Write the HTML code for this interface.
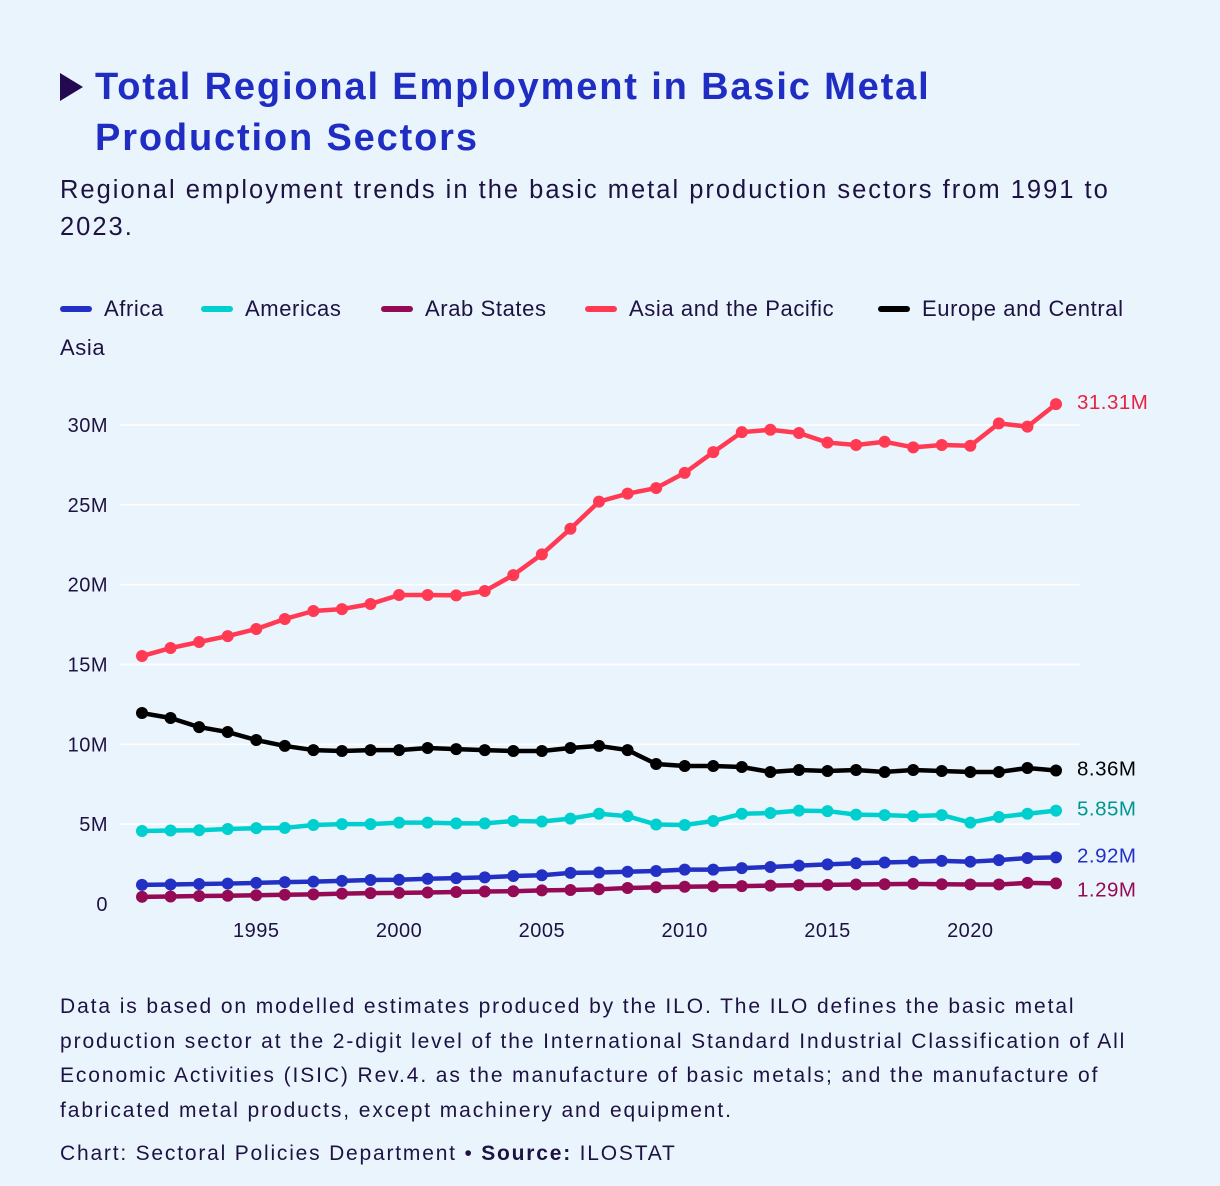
<!DOCTYPE html>
<html><head><meta charset="utf-8">
<style>
body{margin:0;background:#eaf4fd;}
#wrap{position:relative;width:1220px;height:1186px;background:#eaf4fd;font-family:"Liberation Sans",sans-serif;color:#1d1242;overflow:hidden}
.t{position:absolute;margin:0;white-space:nowrap}
.lg{position:absolute;top:294px;font-size:22px;line-height:30px;letter-spacing:0.6px}
.sw{position:absolute;top:12px;width:32px;height:6px;border-radius:3px}
</style></head><body>
<div id="wrap">
<div class="t" style="left:60px;top:73px;width:0;height:0;border-top:14px solid transparent;border-bottom:14px solid transparent;border-left:23px solid #23094f"></div>
<h1 class="t" style="left:95px;top:62px;font-size:38px;line-height:51px;font-weight:bold;color:#1f2dc2;letter-spacing:1.85px">Total Regional Employment in Basic Metal<br>Production Sectors</h1>
<p class="t" style="left:60px;top:172px;font-size:25.5px;line-height:37px;letter-spacing:2px">Regional employment trends in the basic metal production sectors from 1991 to<br>2023.</p>
<div>
<div class="lg" style="left:104px"><span class="sw" style="left:-44px;background:#2330c4"></span>Africa</div>
<div class="lg" style="left:245px"><span class="sw" style="left:-44px;background:#00cfcf"></span>Americas</div>
<div class="lg" style="left:425px"><span class="sw" style="left:-44px;background:#950a55"></span>Arab States</div>
<div class="lg" style="left:629px"><span class="sw" style="left:-44px;background:#ff3a52"></span>Asia and the Pacific</div>
<div class="lg" style="left:922px"><span class="sw" style="left:-44px;background:#000"></span>Europe and Central</div>
<div class="lg" style="left:60px;top:333px">Asia</div>
</div>
<svg id="chart" width="1220" height="1186" style="position:absolute;left:0;top:0"></svg>
<p class="t" style="left:60px;top:990px;font-size:21px;line-height:34.5px;letter-spacing:1.9px">Data is based on modelled estimates produced by the ILO. The ILO defines the basic metal<br>production sector at the 2-digit level of the International Standard Industrial Classification of All<br>Economic Activities (ISIC) Rev.4. as the manufacture of basic metals; and the manufacture of<br>fabricated metal products, except machinery and equipment.</p>
<p class="t" style="left:60px;top:1137px;font-size:21px;line-height:34px;letter-spacing:1.8px">Chart: Sectoral Policies Department • <b>Source:</b> ILOSTAT</p>
</div>
<script>
const years=[];for(let y=1991;y<=2023;y++)years.push(y);
const yTicks=[0,5,10,15,20,25,30];
const xTicks=[1995,2000,2005,2010,2015,2020];
const africa=[1.2,1.22,1.25,1.28,1.32,1.37,1.4,1.45,1.5,1.52,1.58,1.62,1.67,1.75,1.8,1.95,1.97,2.02,2.07,2.15,2.15,2.25,2.32,2.4,2.48,2.55,2.6,2.65,2.7,2.65,2.75,2.88,2.92];
const americas=[4.57,4.6,4.62,4.7,4.75,4.77,4.95,5.0,5.0,5.1,5.1,5.05,5.05,5.2,5.17,5.35,5.65,5.5,4.98,4.95,5.2,5.65,5.7,5.85,5.82,5.6,5.57,5.5,5.57,5.1,5.45,5.65,5.85];
const arab=[0.45,0.47,0.5,0.52,0.55,0.58,0.6,0.65,0.68,0.7,0.72,0.75,0.78,0.8,0.85,0.88,0.92,1.0,1.05,1.08,1.1,1.12,1.15,1.18,1.2,1.22,1.24,1.26,1.24,1.22,1.22,1.32,1.29];
const asia=[15.53,16.03,16.41,16.78,17.22,17.85,18.35,18.47,18.79,19.35,19.35,19.33,19.6,20.6,21.9,23.5,25.2,25.7,26.05,27.0,28.3,29.55,29.7,29.5,28.9,28.75,28.95,28.6,28.75,28.7,30.1,29.9,31.31];
const europe=[11.96,11.65,11.08,10.77,10.27,9.9,9.64,9.58,9.64,9.64,9.77,9.7,9.64,9.58,9.58,9.77,9.9,9.64,8.77,8.64,8.64,8.58,8.27,8.39,8.33,8.39,8.27,8.39,8.33,8.27,8.27,8.52,8.36];
const endLabels=["2.92M","5.85M","1.29M","31.31M","8.36M"];
const NS="http://www.w3.org/2000/svg";
const svg=document.getElementById('chart');
const X=y=>142+(y-1991)*(1056-142)/32;
const Y=v=>904-v*(904-425)/30;
function mk(t,a){const e=document.createElementNS(NS,t);for(const k in a)e.setAttribute(k,a[k]);svg.appendChild(e);return e;}
yTicks.forEach(v=>{
 if(v>0){const g=mk('line',{x1:120,x2:1080,y1:Y(v),y2:Y(v),stroke:'#ffffff','stroke-width':1.5});
 
 }
 const t=mk('text',{x:108,y:Y(v)+7,'text-anchor':'end','font-size':20,'letter-spacing':0.5,fill:'#1d1242','font-family':'Liberation Sans, sans-serif'});
 t.textContent=v===0?'0':v+'M';
 
 
});
xTicks.forEach(yr=>{
 const t=mk('text',{x:X(yr),y:937,'text-anchor':'middle','font-size':20,'letter-spacing':0.5,fill:'#1d1242','font-family':'Liberation Sans, sans-serif'});
 t.textContent=yr;
 
 
});
const series=[[africa,'#2330c4','africa','#2330c4',0],[americas,'#00cfcf','americas','#00968f',0],[arab,'#950a55','arab-states','#950a55',8],[asia,'#ff3a52','asia-pacific','#e8233f',0],[europe,'#000000','europe-central-asia','#000000',0]];
series.forEach((s,i)=>{
 const [d,c,n,lc,dy]=s;
 const p=mk('polyline',{points:d.map((v,j)=>X(years[j])+','+Y(v)).join(' '),fill:'none',stroke:c,'stroke-width':4.5,'stroke-linejoin':'round'});
 
 
 d.forEach((v,j)=>{const m=mk('circle',{cx:X(years[j]),cy:Y(v),r:6,fill:c});
 
 });
 const t=mk('text',{x:1077,y:Y(d[d.length-1])+5+dy,'font-size':20.5,'letter-spacing':0.5,fill:lc,'font-family':'Liberation Sans, sans-serif'});
 t.textContent=endLabels[i];
 
 
});
</script>
</body></html>
